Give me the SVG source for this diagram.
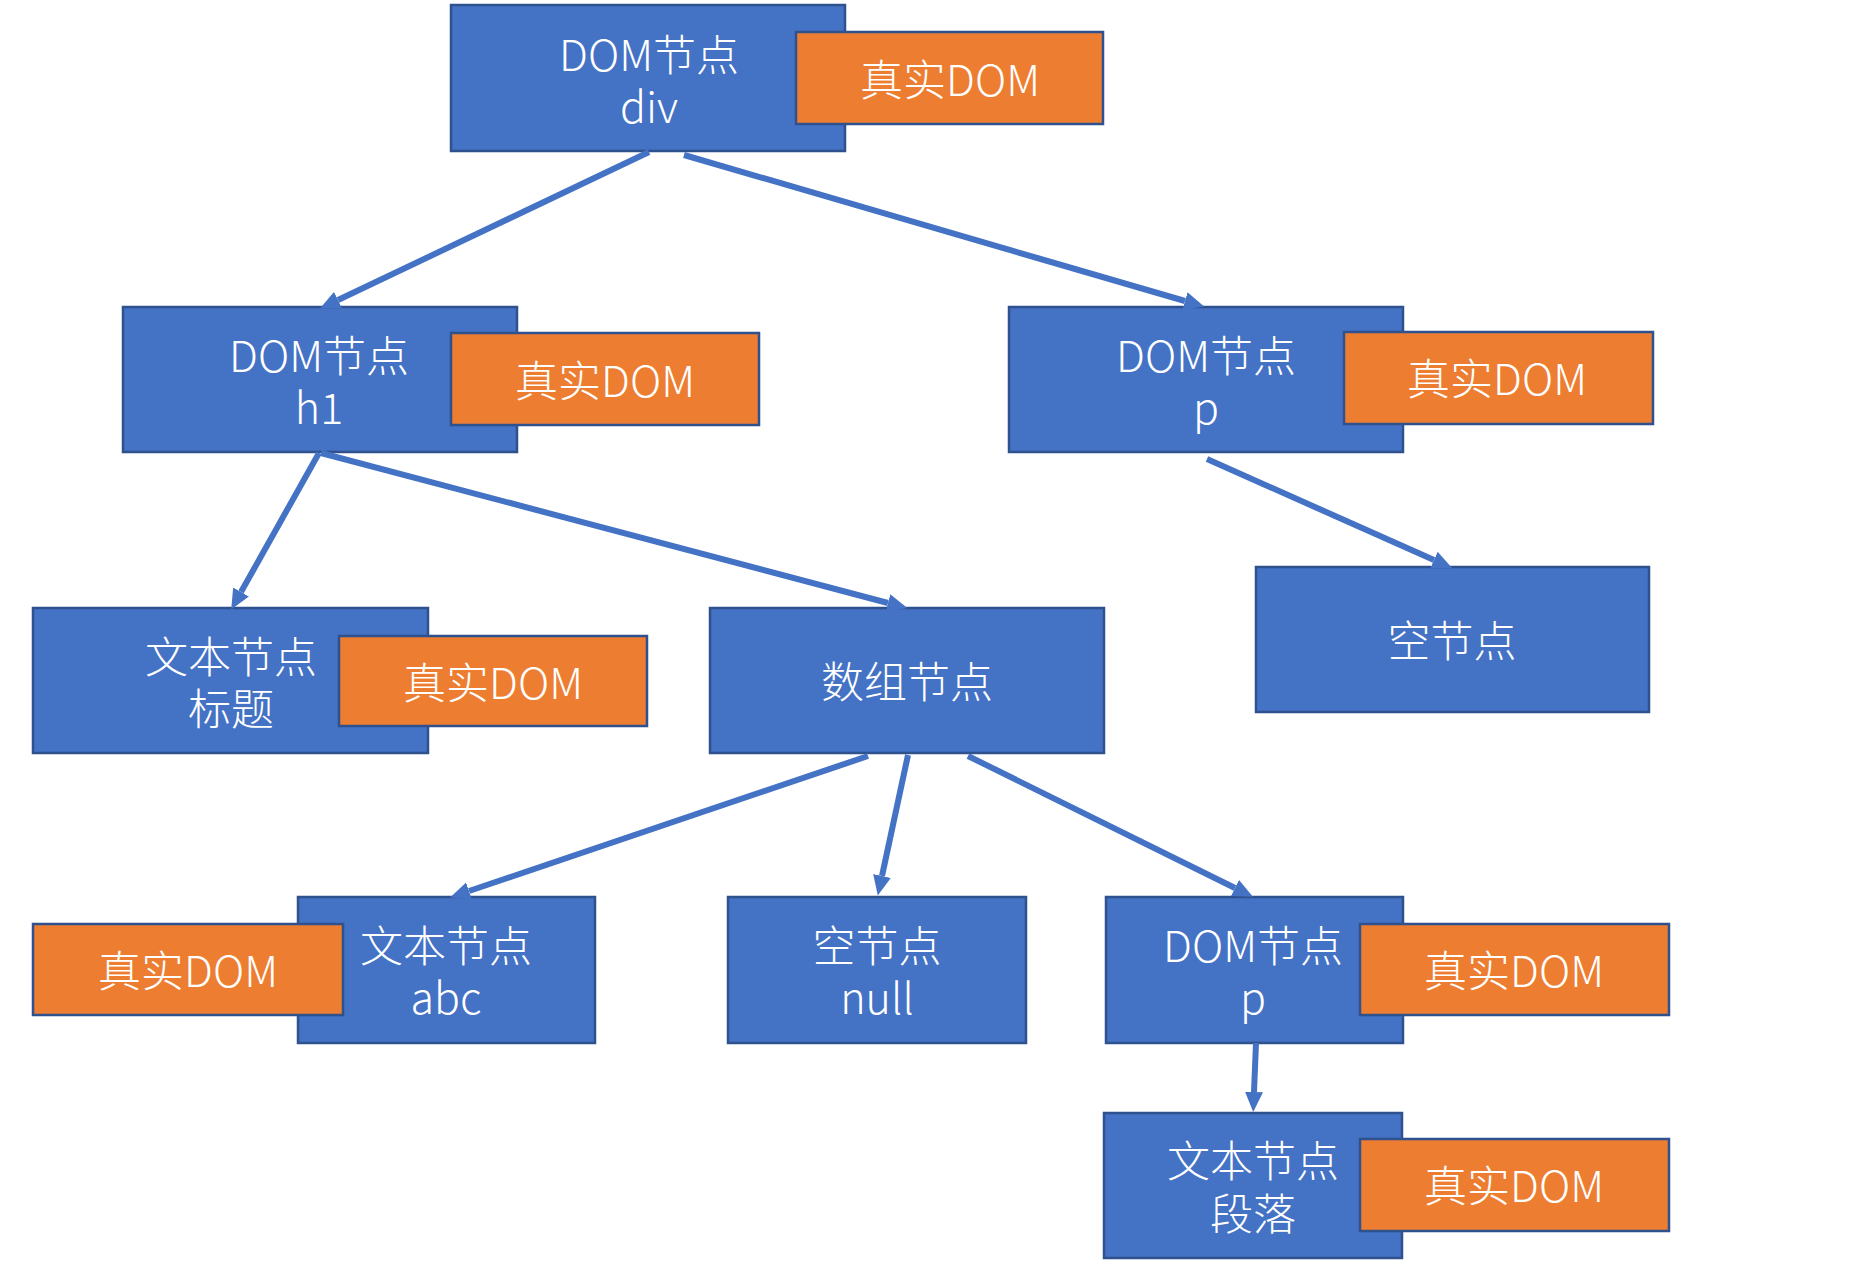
<svg xmlns="http://www.w3.org/2000/svg" width="1866" height="1271" viewBox="0 0 1866 1271">
<style>
.b{fill:#4472C4;stroke:#2F528F;stroke-width:2.5}
.o{fill:#ED7D31;stroke:#2F528F;stroke-width:2.5}
text{font-family:"Noto Sans CJK SC","Liberation Sans",sans-serif;font-size:43px;font-weight:300;fill:#FFFFFF;text-anchor:middle;dominant-baseline:central}
.c line{stroke:#4472C4;stroke-width:6;fill:none;marker-end:url(#ah)}
</style>
<defs>
<marker id="ah" markerUnits="userSpaceOnUse" markerWidth="24" markerHeight="20" refX="0" refY="9" orient="auto" viewBox="0 0 24 20">
<path d="M0,0 L20,9 L0,18 z" fill="#4472C4"/>
</marker>
</defs>
<rect width="1866" height="1271" fill="#FFFFFF"/>
<g id="n-div">
<rect class="b" x="451" y="5" width="394" height="146"/>
<text x="649" y="52">DOM节点</text>
<text x="649" y="104">div</text>
</g>
<g id="r-div">
<rect class="o" x="796" y="32" width="307" height="92"/>
<text x="950" y="77">真实DOM</text>
</g>
<g id="n-h1">
<rect class="b" x="123" y="307" width="394" height="145"/>
<text x="319" y="353">DOM节点</text>
<text x="319" y="405">h1</text>
</g>
<g id="r-h1">
<rect class="o" x="451" y="333" width="308" height="92"/>
<text x="605" y="378">真实DOM</text>
</g>
<g id="n-p">
<rect class="b" x="1009" y="307" width="394" height="145"/>
<text x="1206" y="353">DOM节点</text>
<text x="1206" y="405">p</text>
</g>
<g id="r-p">
<rect class="o" x="1344" y="332" width="309" height="92"/>
<text x="1497" y="376">真实DOM</text>
</g>
<g id="n-title">
<rect class="b" x="33" y="608" width="395" height="145"/>
<text x="231" y="654">文本节点</text>
<text x="231" y="706">标题</text>
</g>
<g id="r-title">
<rect class="o" x="339" y="636" width="308" height="90"/>
<text x="493" y="680">真实DOM</text>
</g>
<g id="n-array">
<rect class="b" x="710" y="608" width="394" height="145"/>
<text x="907" y="679">数组节点</text>
</g>
<g id="n-empty1">
<rect class="b" x="1256" y="567" width="393" height="145"/>
<text x="1452" y="638">空节点</text>
</g>
<g id="n-abc">
<rect class="b" x="298" y="897" width="297" height="146"/>
<text x="446" y="943">文本节点</text>
<text x="446" y="995">abc</text>
</g>
<g id="r-abc">
<rect class="o" x="33" y="924" width="310" height="91"/>
<text x="188" y="968">真实DOM</text>
</g>
<g id="n-null">
<rect class="b" x="728" y="897" width="298" height="146"/>
<text x="877" y="943">空节点</text>
<text x="877" y="995">null</text>
</g>
<g id="n-p2">
<rect class="b" x="1106" y="897" width="297" height="146"/>
<text x="1253" y="943">DOM节点</text>
<text x="1253" y="995">p</text>
</g>
<g id="r-p2">
<rect class="o" x="1360" y="924" width="309" height="91"/>
<text x="1514" y="968">真实DOM</text>
</g>
<g id="n-para">
<rect class="b" x="1104" y="1113" width="298" height="145"/>
<text x="1253" y="1158">文本节点</text>
<text x="1253" y="1211">段落</text>
</g>
<g id="r-para">
<rect class="o" x="1360" y="1139" width="309" height="92"/>
<text x="1514" y="1183">真实DOM</text>
</g>
<g id="connectors" class="c">
<line x1="649" y1="152" x2="338" y2="300"/>
<line x1="684" y1="155" x2="1185" y2="301"/>
<line x1="319" y1="453" x2="241" y2="592"/>
<line x1="321" y1="453" x2="888" y2="603"/>
<line x1="1207" y1="459" x2="1434" y2="560"/>
<line x1="868" y1="756" x2="469" y2="891"/>
<line x1="908" y1="755" x2="882" y2="876"/>
<line x1="968" y1="756" x2="1235" y2="888"/>
<line x1="1256" y1="1043" x2="1254" y2="1092"/>
</g>
</svg>
